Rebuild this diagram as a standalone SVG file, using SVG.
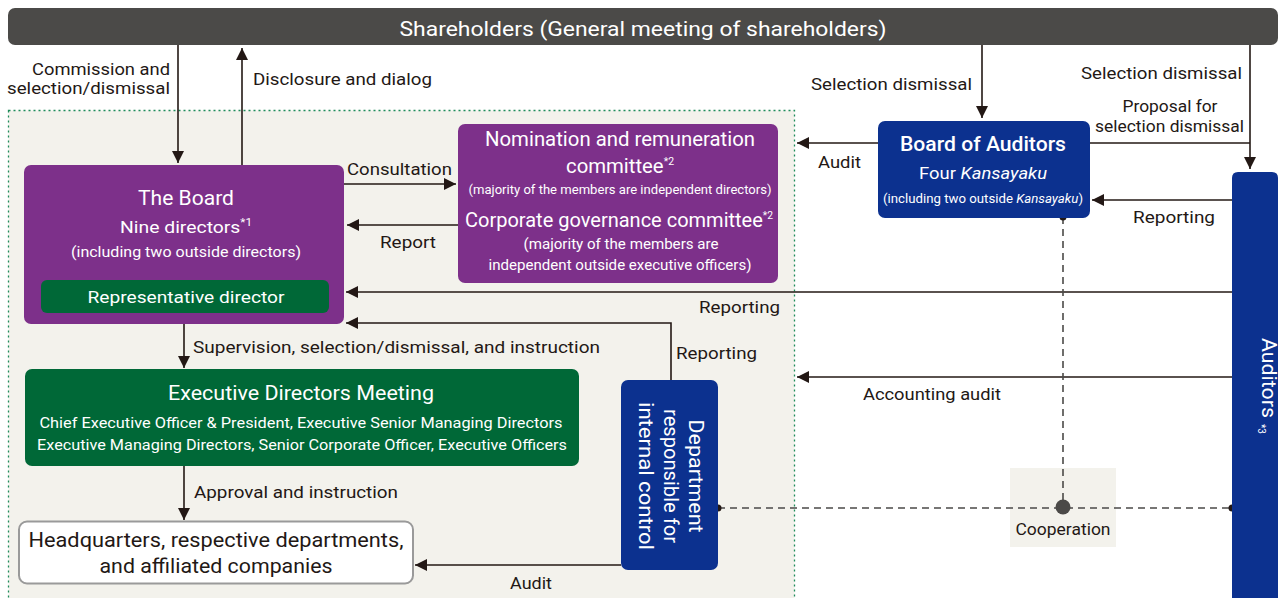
<svg xmlns="http://www.w3.org/2000/svg" width="1280" height="598" viewBox="0 0 1280 598">
<defs>
<style>
text{font-family:Roboto,"Liberation Sans",sans-serif;fill:#231815;}
.w{fill:#ffffff;}
.c{text-anchor:middle;}
.r{text-anchor:end;}
.ln{fill:none;stroke:#231815;stroke-width:1.6;}
.ar{marker-end:url(#ah);}
.ds{fill:none;stroke:#4b4a48;stroke-width:1.6;stroke-dasharray:7 5;}
.pur{fill:#7d308a;}
.grn{fill:#006837;}
.blu{fill:#0c318f;}
</style>
<marker id="ah" viewBox="0 0 12 12" refX="12" refY="6" markerWidth="12" markerHeight="12" markerUnits="userSpaceOnUse" orient="auto">
<path d="M0,0 L12,6 L0,12 z" fill="#231815"/>
</marker>
</defs>
<rect width="1280" height="598" fill="#ffffff"/>

<g id="company-area">
<rect x="8.5" y="110.5" width="786" height="500" fill="#f3f2ec" stroke="#1e8c5a" stroke-width="1.3" stroke-dasharray="2 3"/>
<rect x="1010" y="468" width="106" height="79" fill="#f3f2ec"/>
</g>

<g id="shareholders">
<rect x="8" y="8" width="1270" height="37" rx="7" fill="#4b4a48"/>
<text class="w c" x="643" y="36" font-size="21" textLength="487" lengthAdjust="spacingAndGlyphs">Shareholders (General meeting of shareholders)</text>
</g>

<g id="connectors">
<path class="ln ar" d="M178,45 V163"/>
<path class="ln ar" d="M242,165 V48"/>
<path class="ln ar" d="M344,184 H456"/>
<path class="ln ar" d="M458,225 H347"/>
<path class="ln ar" d="M1232,292 H346"/>
<path class="ln ar" d="M671,380 V323 H346"/>
<path class="ln ar" d="M184,324 V368"/>
<path class="ln ar" d="M184,466 V520"/>
<path class="ln ar" d="M621,565 H415"/>
<path class="ln ar" d="M878,143 H797"/>
<path class="ln ar" d="M982,45 V118"/>
<path class="ln ar" d="M1250,45 V169"/>
<path class="ln" d="M1090,143 H1250"/>
<path class="ln ar" d="M1232,200 H1092"/>
<path class="ln ar" d="M1232,377 H797"/>
<path class="ds" d="M1063,217 V507"/>
<path class="ds" d="M718,508 H1232"/>
<circle cx="1063" cy="217" r="3.5" fill="#231815"/>
<circle cx="718" cy="508" r="3.5" fill="#231815"/>
<circle cx="1232" cy="508" r="3.5" fill="#231815"/>
<circle cx="1063" cy="507" r="7.5" fill="#4b4a48"/>

<text class="r" x="170" y="75" font-size="16.5" textLength="138" lengthAdjust="spacingAndGlyphs">Commission and</text>
<text class="r" x="170" y="94" font-size="16.5" textLength="163" lengthAdjust="spacingAndGlyphs">selection/dismissal</text>
<text x="253" y="85" font-size="16.5" textLength="179" lengthAdjust="spacingAndGlyphs">Disclosure and dialog</text>
<text x="347" y="175" font-size="16.5" textLength="105" lengthAdjust="spacingAndGlyphs">Consultation</text>
<text x="380" y="248" font-size="16.5" textLength="56" lengthAdjust="spacingAndGlyphs">Report</text>
<text x="699" y="313" font-size="16.5" textLength="81" lengthAdjust="spacingAndGlyphs">Reporting</text>
<text x="676" y="359" font-size="16.5" textLength="81" lengthAdjust="spacingAndGlyphs">Reporting</text>
<text x="193" y="353" font-size="16.5" textLength="407" lengthAdjust="spacingAndGlyphs">Supervision, selection/dismissal, and instruction</text>
<text x="194" y="498" font-size="16.5" textLength="204" lengthAdjust="spacingAndGlyphs">Approval and instruction</text>
<text x="510" y="589" font-size="16.5" textLength="42" lengthAdjust="spacingAndGlyphs">Audit</text>
<text x="818" y="168" font-size="16.5" textLength="43" lengthAdjust="spacingAndGlyphs">Audit</text>
<text class="r" x="972" y="90" font-size="16.5" textLength="161" lengthAdjust="spacingAndGlyphs">Selection dismissal</text>
<text class="r" x="1242" y="79" font-size="16.5" textLength="161" lengthAdjust="spacingAndGlyphs">Selection dismissal</text>
<text class="c" x="1170" y="112" font-size="16.5" textLength="95" lengthAdjust="spacingAndGlyphs">Proposal for</text>
<text class="r" x="1244" y="132" font-size="16.5" textLength="149" lengthAdjust="spacingAndGlyphs">selection dismissal</text>
<text x="1133" y="223" font-size="16.5" textLength="82" lengthAdjust="spacingAndGlyphs">Reporting</text>
<text x="863" y="400" font-size="16.5" textLength="138" lengthAdjust="spacingAndGlyphs">Accounting audit</text>
<text class="c" x="1063" y="535" font-size="16" textLength="95" lengthAdjust="spacingAndGlyphs">Cooperation</text>
</g>

<g id="board">
<rect class="pur" x="24" y="165" width="320" height="159" rx="7"/>
<text class="w c" x="186" y="205" font-size="21" textLength="96" lengthAdjust="spacingAndGlyphs">The Board</text>
<text class="w c" x="186" y="233" font-size="16.5" textLength="132" lengthAdjust="spacingAndGlyphs">Nine directors<tspan font-size="10" dy="-7">*1</tspan></text>
<text class="w c" x="186" y="257" font-size="14.5" textLength="230" lengthAdjust="spacingAndGlyphs">(including two outside directors)</text>
<rect class="grn" x="41" y="280" width="288" height="33" rx="6"/>
<text class="w c" x="186" y="303" font-size="16.5" textLength="197" lengthAdjust="spacingAndGlyphs">Representative director</text>
</g>

<g id="committees">
<rect class="pur" x="458" y="124" width="320" height="159" rx="7"/>
<text class="w c" x="620" y="146" font-size="19.5" textLength="270" lengthAdjust="spacingAndGlyphs">Nomination and remuneration</text>
<text class="w c" x="620" y="173" font-size="19.5" textLength="108" lengthAdjust="spacingAndGlyphs">committee<tspan font-size="10" dy="-8">*2</tspan></text>
<text class="w c" x="620" y="194" font-size="13.5" textLength="303" lengthAdjust="spacingAndGlyphs">(majority of the members are independent directors)</text>
<text class="w c" x="619" y="227" font-size="19.5" textLength="308" lengthAdjust="spacingAndGlyphs">Corporate governance committee<tspan font-size="10" dy="-8">*2</tspan></text>
<text class="w c" x="621" y="249" font-size="14.5" textLength="195" lengthAdjust="spacingAndGlyphs">(majority of the members are</text>
<text class="w c" x="620" y="270" font-size="14.5" textLength="263" lengthAdjust="spacingAndGlyphs">independent outside executive officers)</text>
</g>

<g id="executive">
<rect class="grn" x="25" y="369" width="554" height="97" rx="7"/>
<text class="w c" x="301" y="400" font-size="20" textLength="266" lengthAdjust="spacingAndGlyphs">Executive Directors Meeting</text>
<text class="w c" x="301" y="428" font-size="15" textLength="523" lengthAdjust="spacingAndGlyphs">Chief Executive Officer &amp; President, Executive Senior Managing Directors</text>
<text class="w c" x="302" y="450" font-size="15" textLength="530" lengthAdjust="spacingAndGlyphs">Executive Managing Directors, Senior Corporate Officer, Executive Officers</text>
</g>

<g id="headquarters">
<rect x="19" y="521.5" width="394" height="62" rx="8" fill="#ffffff" stroke="#9a9a9a" stroke-width="2"/>
<text class="c" x="216" y="547" font-size="20" textLength="375" lengthAdjust="spacingAndGlyphs">Headquarters, respective departments,</text>
<text class="c" x="216" y="573" font-size="20" textLength="233" lengthAdjust="spacingAndGlyphs">and affiliated companies</text>
</g>

<g id="internal-control">
<rect class="blu" x="621" y="380" width="97" height="190" rx="7"/>
<g transform="translate(670,476) rotate(90)">
<text class="w c" x="0" y="-19" font-size="20" textLength="113" lengthAdjust="spacingAndGlyphs">Department</text>
<text class="w c" x="0" y="6" font-size="20" textLength="134" lengthAdjust="spacingAndGlyphs">responsible for</text>
<text class="w c" x="0" y="31" font-size="20" textLength="148" lengthAdjust="spacingAndGlyphs">internal control</text>
</g>
</g>

<g id="board-of-auditors">
<rect class="blu" x="878" y="121" width="212" height="97" rx="7"/>
<text class="w c" x="983" y="151" font-size="20.5" font-weight="500" textLength="166" lengthAdjust="spacingAndGlyphs">Board of Auditors</text>
<text class="w c" x="983" y="179" font-size="16.5" textLength="128" lengthAdjust="spacingAndGlyphs">Four <tspan font-style="italic">Kansayaku</tspan></text>
<text class="w c" x="983" y="203" font-size="13.5" textLength="200" lengthAdjust="spacingAndGlyphs">(including two outside <tspan font-style="italic">Kansayaku</tspan>)</text>
</g>

<g id="auditors">
<path class="blu" d="M1232,598 V178 Q1232,172 1238,172 H1272 Q1278,172 1278,178 V598 Z"/>
<g transform="translate(1255,378) rotate(90)">
<text class="w c" x="0" y="-7" font-size="20" textLength="80" lengthAdjust="spacingAndGlyphs">Auditors</text>
<text class="w" x="46" y="-3" font-size="10">*3</text>
</g>
</g>
</svg>
